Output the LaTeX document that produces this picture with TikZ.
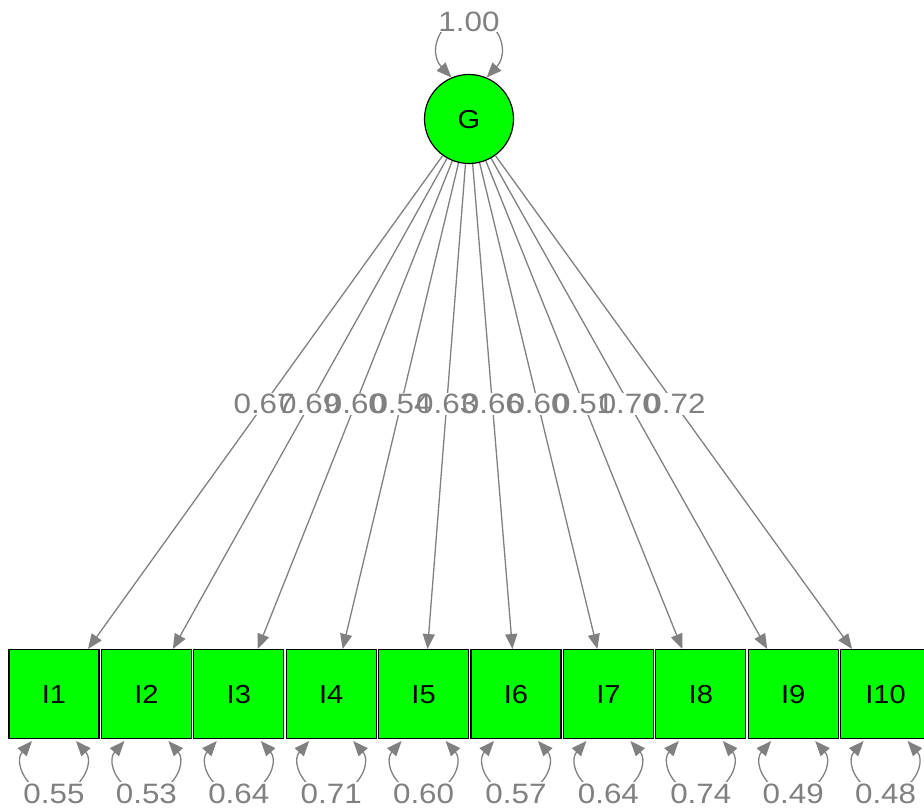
\documentclass[tikz,border=0pt]{standalone}
\usepackage{fontspec}
\setmainfont{Liberation Sans}
\newfontfamily\labfont[FakeStretch=1.12]{Liberation Sans}
\usetikzlibrary{arrows.meta,calc}
\definecolor{semgreen}{RGB}{0,255,0}
\definecolor{edgegray}{RGB}{128,128,128}
\tikzset{
  latent/.style={circle,draw=black,fill=semgreen,minimum size=89pt,inner sep=0pt,line width=1.2pt,text height=18.6pt,text depth=0pt,font={\labfont\fontsize{26}{30}\selectfont}},
  manifest/.style={rectangle,draw=black,fill=semgreen,minimum width=90pt,minimum height=88.8pt,inner sep=0pt,line width=1.2pt,text height=18.6pt,text depth=0pt,font={\labfont\fontsize{26}{30}\selectfont}},
  loadedge/.style={draw=edgegray,line width=1.3pt,-{Triangle[length=15pt,width=12pt]}},
  varloop/.style={draw=edgegray,line width=1.3pt,{Triangle[length=15pt,width=12pt]}-{Triangle[length=15pt,width=12pt]}},
  elabbg/.style={fill=white,inner sep=1pt,text opacity=0,text height=20pt,text depth=0pt,font={\labfont\fontsize{28}{32}\selectfont}},
  elab/.style={text=edgegray,inner sep=1pt,text height=20pt,text depth=0pt,font={\labfont\fontsize{28}{32}\selectfont}},
}
\begin{document}
\begin{tikzpicture}[x=1pt,y=-1pt]
\useasboundingbox (0,0) rectangle (924,809);
\clip (0,0) rectangle (924,809);
\node[latent] (G) at (469,119) {G};
\foreach \i in {1,...,10} {
  \pgfmathsetmacro\cx{54+92.4*(\i-1)}
  \pgfmathsetmacro\ex{470+(\i-5.5)*84.9}
  \node[manifest] (I\i) at (\cx,694) {I\i};
  \coordinate (e\i) at (\ex,649);
}
% loadings
\foreach \i in {1,...,10} {
  \draw[loadedge] (G) -- (e\i);
}
\foreach \i/\v in {1/0.67,2/0.69,3/0.60,4/0.54,5/0.63,6/0.66,7/0.60,8/0.51,9/0.70,10/0.72} {
  \node[elabbg] (bg\i) at ($(G.center)!0.5377!(e\i)$) {\v};
}
\foreach \i/\v in {1/0.67,2/0.69,3/0.60,4/0.54,5/0.63,6/0.66,7/0.60,8/0.51,9/0.70,10/0.72} {
  \node[elab] (l\i) at ($(G.center)!0.5377!(e\i)$) {\v};
}
% residual variances
\foreach \i/\v in {1/0.55,2/0.53,3/0.64,4/0.71,5/0.60,6/0.57,7/0.64,8/0.74,9/0.49,10/0.48} {
  \draw[varloop] ($(I\i.south)+(-22,2)$) .. controls ($(I\i.south)+(-38,20)$) and ($(I\i.south)+(-34,38)$) .. ($(I\i.south)+(-18,50)$) -- ($(I\i.south)+(18,50)$) .. controls ($(I\i.south)+(34,38)$) and ($(I\i.south)+(38,20)$) .. ($(I\i.south)+(22,2)$);
  \node[elab,fill=white] (r\i) at ($(I\i.south)+(0,54)$) {\v};
}
\draw[varloop] (G.113) .. controls ($(G.center)+(-37,-62)$) and ($(G.center)+(-35,-82)$) .. ($(G.center)+(-22,-94)$) -- ($(G.center)+(22,-94)$) .. controls ($(G.center)+(35,-82)$) and ($(G.center)+(37,-62)$) .. (G.67);
\node[elab,fill=white] (rG) at ($(G.center)+(0,-98)$) {1.00};
\end{tikzpicture}
\end{document}
